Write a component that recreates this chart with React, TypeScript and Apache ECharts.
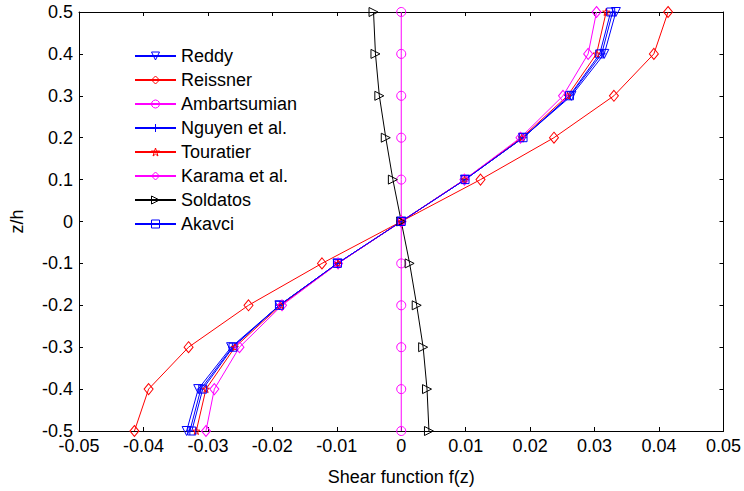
import React, { useEffect, useRef } from "react";
import * as echarts from "echarts";

const zValues = [-0.5, -0.4, -0.3, -0.2, -0.1, 0, 0.1, 0.2, 0.3, 0.4, 0.5];
const seriesNames = ["Reddy", "Reissner", "Ambartsumian", "Nguyen et al.", "Touratier", "Karama et al.", "Soldatos", "Akavci"];
const reddy = [-0.0333, -0.0315, -0.0264, -0.0189, -0.0099, 0, 0.0099, 0.0189, 0.0264, 0.0315, 0.0333];
const reissner = [-0.0414, -0.0392, -0.033, -0.0237, -0.0123, 0, 0.0123, 0.0237, 0.033, 0.0392, 0.0414];
const ambartsumian = [0, 0, 0, 0, 0, 0, 0, 0, 0, 0, 0];
const nguyen = [-0.0328, -0.0311, -0.0262, -0.0189, -0.0099, 0, 0.0099, 0.0189, 0.0262, 0.0311, 0.0328];
const touratier = [-0.0318, -0.0303, -0.0258, -0.0187, -0.0098, 0, 0.0098, 0.0187, 0.0258, 0.0303, 0.0318];
const karama = [-0.0303, -0.029, -0.0251, -0.0185, -0.0098, 0, 0.0098, 0.0185, 0.0251, 0.029, 0.0303];
const soldatos = [0.0043, 0.004, 0.0034, 0.0024, 0.0013, 0, -0.0013, -0.0024, -0.0034, -0.004, -0.0043];
const akavci = [-0.0325, -0.0308, -0.0261, -0.0189, -0.0099, 0, 0.0099, 0.0189, 0.0261, 0.0308, 0.0325];

const FONT = "'Liberation Sans', Arial, sans-serif";

const symDown = "path://M0,0L10,0L5,10Z";
const symRight = "path://M0,0L10,5L0,10Z";
const symPlus = "path://M5,0L5,10M0,5L10,5";
const symStar = "path://M5,0L6.2,3.6L10,3.6L6.9,5.9L8.1,9.5L5,7.3L1.9,9.5L3.1,5.9L0,3.6L3.8,3.6Z";

const styles = [
  { color: "#0000ff", symbol: symDown, size: 9 },
  { color: "#ff0000", symbol: "diamond", size: [9, 11] },
  { color: "#ff00ff", symbol: "circle", size: 9 },
  { color: "#0000ff", symbol: symPlus, size: 8 },
  { color: "#ff0000", symbol: symStar, size: 7 },
  { color: "#ff00ff", symbol: "diamond", size: [9, 11] },
  { color: "#000000", symbol: symRight, size: 9 },
  { color: "#0000ff", symbol: "rect", size: 8 },
];

export default function App() {
  const ref = useRef<HTMLDivElement>(null);
  useEffect(() => {
    if (!ref.current) return;
    const chart = echarts.init(ref.current, undefined, { renderer: "svg" });
    const allData = [reddy, reissner, ambartsumian, nguyen, touratier, karama, soldatos, akavci];
    const fmtX = (v: number) => String(+v.toFixed(2));
    const fmtY = (v: number) => String(+v.toFixed(1));
    const axisCommon = {
      axisLine: { onZero: false, lineStyle: { color: "#000", width: 1 } },
      axisTick: { inside: true, length: 4, lineStyle: { color: "#000" } },
      splitLine: { show: false },
    };
    const option: any = {
      animation: false,
      grid: { left: 71, right: 19, top: 12, bottom: 51 },
      legend: {
        orient: "vertical",
        left: 129,
        top: 42,
        itemWidth: 41,
        itemHeight: 10,
        itemGap: 6,
        data: seriesNames,
        textStyle: { color: "#000", fontSize: 18, fontFamily: FONT },
        itemStyle: { color: "rgba(0,0,0,0)", borderWidth: 1 },
        selectedMode: false,
      },
      xAxis: [
        {
          type: "value",
          min: -0.05,
          max: 0.05,
          interval: 0.01,
          ...axisCommon,
          axisLabel: { color: "#000", fontSize: 18, fontFamily: FONT, margin: 6, formatter: (v: number) => fmtX(v) },
          name: "Shear function f(z)",
          nameLocation: "middle",
          nameGap: 37,
          nameTextStyle: { color: "#000", fontSize: 18, fontFamily: FONT },
        },
        {
          type: "value",
          position: "top",
          min: -0.05,
          max: 0.05,
          interval: 0.01,
          ...axisCommon,
          axisLabel: { show: false },
        },
      ],
      yAxis: [
        {
          type: "value",
          min: -0.5,
          max: 0.5,
          interval: 0.1,
          ...axisCommon,
          axisLabel: { color: "#000", fontSize: 18, fontFamily: FONT, margin: 6, formatter: (v: number) => fmtY(v) },
          name: "z/h",
          nameLocation: "middle",
          nameGap: 53,
          nameTextStyle: { color: "#000", fontSize: 18, fontFamily: FONT },
        },
        {
          type: "value",
          position: "right",
          min: -0.5,
          max: 0.5,
          interval: 0.1,
          ...axisCommon,
          axisLabel: { show: false },
        },
      ],
      series: seriesNames.map((name, i) => ({
        name,
        type: "line",
        xAxisIndex: 0,
        yAxisIndex: 0,
        data: zValues.map((z, k) => [allData[i][k], z]),
        symbol: styles[i].symbol,
        symbolSize: styles[i].size,
        showAllSymbol: true,
        lineStyle: { color: styles[i].color, width: 1 },
        itemStyle: { color: "rgba(0,0,0,0)", borderColor: styles[i].color, borderWidth: 1 },
        emphasis: { disabled: true },
        silent: true,
        clip: false,
      })),
    };
    chart.setOption(option);
    return () => chart.dispose();
  }, []);
  return <div ref={ref} style={{ position: "absolute", left: 0, top: 0, width: 744, height: 491 }} />;
}
